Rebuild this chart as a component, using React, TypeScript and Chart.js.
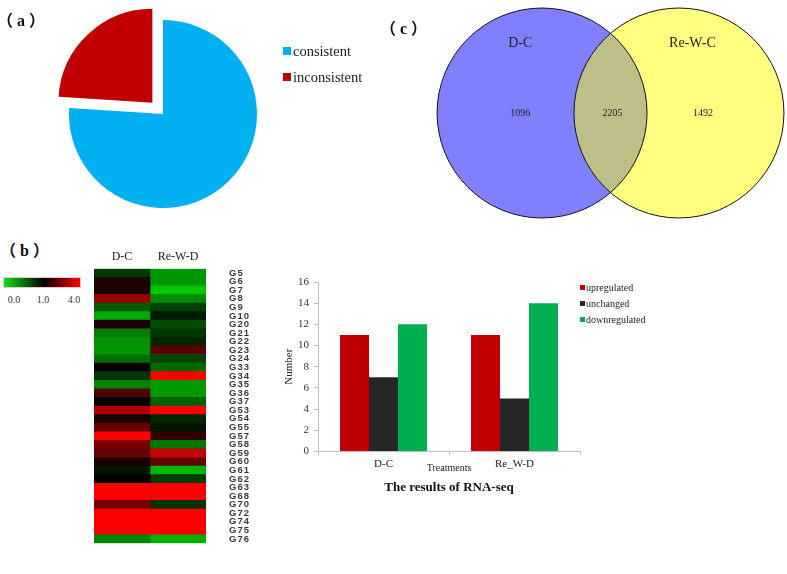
import React, { useEffect, useRef } from 'react';
import { Chart, registerables } from 'chart.js';

Chart.register(...registerables);

const SERIF = "'Liberation Serif', 'Times New Roman', serif";
const CJK = "'Liberation Serif', 'Noto Sans CJK SC', serif";

// ---------- (a) pie ----------
const pieLabels = ['consistent', 'inconsistent'];
const pieValues = [76, 24];
const pieColors = ['#00b0f0', '#c00000'];

// ---------- (c) venn ----------
const vennSetLabels = ['D-C', 'Re-W-C'];
const vennCounts = [1096, 2205, 1492]; // only D-C, both, only Re-W-C
const vennColors = ['#8080ff', '#ffff80', '#bebe88'];

// ---------- (b) heatmap ----------
const genes = ['G5', 'G6', 'G7', 'G8', 'G9', 'G10', 'G20', 'G21', 'G22', 'G23', 'G24', 'G33', 'G34', 'G35', 'G36', 'G37',
  'G53', 'G54', 'G55', 'G57', 'G58', 'G59', 'G60', 'G61', 'G62', 'G63', 'G68', 'G70', 'G72', 'G74', 'G75', 'G76'];
const heatColumns = ['D-C', 'Re-W-D'];
const dcValues = [0.74, 1.35, 1.35, 2.76, 0.61, 0.26, 1.35, 0.46, 0.37, 0.35, 0.52, 1.0, 0.76, 0.43, 1.94, 1.06,
  3.0, 1.35, 2.18, 4.0, 2.41, 2.18, 1.29, 0.91, 1.0, 4.0, 4.0, 2.41, 4.0, 4.0, 4.0, 0.43];
const rwdValues = [0.35, 0.35, 0.13, 0.39, 0.72, 0.89, 0.67, 0.76, 0.85, 2.06, 0.7, 0.54, 4.0, 0.33, 0.33, 0.57,
  4.0, 0.83, 0.91, 1.59, 0.48, 3.35, 2.18, 0.2, 0.74, 4.0, 4.0, 0.78, 4.0, 4.0, 4.0, 0.24];
const colorbarLabels = ['0.0', '1.0', '4.0'];

// ---------- RNA-seq bars ----------
const barCategories = ['D-C', 'Re_W-D'];
const seriesNames = ['upregulated', 'unchanged', 'downregulated'];
const upregulated = [11, 11];
const unchanged = [7, 5];
const downregulated = [12, 14];
const barColors = ['#c00000', '#262626', '#00b050'];

function heatColor(v: number): string {
  if (v <= 1) {
    const g = Math.round(230 * (1 - Math.max(0, v)));
    return `rgb(0,${g},0)`;
  }
  const r = Math.round(255 * Math.min(1, (v - 1) / 3));
  return `rgb(${r},0,0)`;
}

function useChart(ref: any, make: () => any) {
  useEffect(() => {
    const c = new Chart(ref.current, make());
    return () => c.destroy();
  }, []);
}

const abs = (left: number, top: number, extra: any = {}) => ({ position: 'absolute' as const, left, top, ...extra });

function PiePanel() {
  const ref = useRef<HTMLCanvasElement>(null);
  useChart(ref, () => ({
    type: 'pie',
    data: {
      labels: pieLabels,
      datasets: [{ data: pieValues, backgroundColor: pieColors, borderWidth: 0, offset: [0, 62], radius: 94 }],
    },
    options: {
      responsive: false, animation: false, events: [],
      layout: { padding: 0 },
      plugins: { legend: { display: false }, tooltip: { enabled: false } },
    },
  }));
  return (
    <>
      <canvas ref={ref} width={326} height={228} style={abs(0, 0)} />
      {pieLabels.map((l, i) => (
        <div key={l} style={abs(283, 42 + i * 26, { height: 18, display: 'flex', alignItems: 'center', font: `14.5px ${SERIF}`, color: '#222', whiteSpace: 'nowrap' })}>
          <span style={{ width: 8, height: 8, background: pieColors[i], marginRight: 2, display: 'inline-block' }} />
          {l}
        </div>
      ))}
    </>
  );
}

function VennPanel() {
  const ref = useRef<HTMLCanvasElement>(null);
  useChart(ref, () => {
    const R = 1;
    const pxR = (chart: any) => {
      const s = chart.scales.x;
      return s.getPixelForValue(R) - s.getPixelForValue(0);
    };
    const vennPlugin = {
      id: 'vennOverlap',
      beforeDatasetsDraw(chart: any) {
        const { ctx } = chart;
        const r = pxR(chart);
        ctx.save();
        [0, 1].forEach((i) => {
          const p = chart.getDatasetMeta(i).data[0];
          ctx.beginPath(); ctx.arc(p.x, p.y, r, 0, Math.PI * 2);
          ctx.fillStyle = vennColors[i]; ctx.fill();
        });
        ctx.restore();
      },
      afterDatasetsDraw(chart: any) {
        const { ctx } = chart;
        const xs = chart.scales.x, ys = chart.scales.y;
        const r = pxR(chart);
        const a = chart.getDatasetMeta(0).data[0];
        const b = chart.getDatasetMeta(1).data[0];
        ctx.save();
        ctx.beginPath(); ctx.arc(a.x, a.y, r, 0, Math.PI * 2); ctx.clip();
        ctx.beginPath(); ctx.arc(b.x, b.y, r, 0, Math.PI * 2);
        ctx.fillStyle = vennColors[2]; ctx.fill();
        ctx.restore();
        ctx.save();
        ctx.strokeStyle = '#111'; ctx.lineWidth = 1;
        [a, b].forEach((p: any) => { ctx.beginPath(); ctx.arc(p.x, p.y, r, 0, Math.PI * 2); ctx.stroke(); });
        ctx.fillStyle = '#222'; ctx.textAlign = 'center'; ctx.textBaseline = 'middle';
        ctx.font = `14px ${SERIF}`;
        ctx.fillText(vennSetLabels[0], xs.getPixelForValue(-0.86), ys.getPixelForValue(0.667));
        ctx.fillText(vennSetLabels[1], xs.getPixelForValue(0.78), ys.getPixelForValue(0.667));
        ctx.font = `10px ${SERIF}`;
        ctx.fillText(String(vennCounts[0]), xs.getPixelForValue(-0.86), ys.getPixelForValue(0));
        ctx.fillText(String(vennCounts[1]), xs.getPixelForValue(0.02), ys.getPixelForValue(0));
        ctx.fillText(String(vennCounts[2]), xs.getPixelForValue(0.88), ys.getPixelForValue(0));
        ctx.restore();
      },
    };
    const rad = (ctx: any) => {
      const v = pxR(ctx.chart);
      return isFinite(v) ? v : 0;
    };
    return {
      type: 'bubble',
      data: {
        datasets: [
          { label: vennSetLabels[0], data: [{ x: -0.652, y: 0 }], backgroundColor: vennColors[0], borderColor: '#111', borderWidth: 1, radius: rad },
          { label: vennSetLabels[1], data: [{ x: 0.652, y: 0 }], backgroundColor: vennColors[1], borderColor: '#111', borderWidth: 1, radius: rad },
        ],
      },
      options: {
        responsive: false, animation: false, events: [],
        layout: { padding: 0 },
        scales: {
          x: { type: 'linear', min: -2.005, max: 1.681, display: false },
          y: { type: 'linear', min: -1.114, max: 1.076, display: false },
        },
        plugins: { legend: { display: false }, tooltip: { enabled: false } },
      },
      plugins: [vennPlugin],
    };
  });
  return <canvas ref={ref} width={387} height={230} style={abs(400, 0)} />;
}

function HeatPanel() {
  const ref = useRef<HTMLCanvasElement>(null);
  useChart(ref, () => {
    const spacing = {
      id: 'geneSpacing',
      afterLayout(chart: any) {
        const s = chart.scales.y;
        if (s.__patched) return;
        const orig = s.drawLabels.bind(s);
        s.drawLabels = (ca: any) => {
          const ctx = chart.ctx;
          ctx.save();
          ctx.letterSpacing = '1px';
          orig(ca);
          ctx.restore();
        };
        s.__patched = true;
      },
    };
    return {
      type: 'bar',
      data: {
        labels: genes,
        datasets: [
          { label: heatColumns[0], data: genes.map(() => 1), backgroundColor: dcValues.map(heatColor) },
          { label: heatColumns[1], data: genes.map(() => 1), backgroundColor: rwdValues.map(heatColor) },
        ],
      },
      options: {
        indexAxis: 'y',
        responsive: false, animation: false, events: [],
        layout: { padding: { left: 4, top: 5, right: 0, bottom: 2 } },
        datasets: { bar: { barPercentage: 1, categoryPercentage: 1, borderWidth: 0 } },
        scales: {
          x: { type: 'linear', stacked: true, min: 0, max: 2, display: false },
          xTop: {
            type: 'category', axis: 'x', labels: heatColumns, position: 'top', offset: true,
            grid: { display: false, drawTicks: false }, border: { display: false },
            ticks: { font: { family: SERIF, size: 12 }, color: '#222', padding: 5 },
            afterFit: (s: any) => { s.height = 22; },
          },
          y: {
            stacked: true, position: 'right',
            grid: { display: false, drawTicks: false }, border: { display: false },
            ticks: { font: { family: "'Liberation Sans', Arial, sans-serif", size: 9.5, weight: 'bold' }, color: '#3a3a3a', padding: 23, autoSkip: false },
            afterFit: (s: any) => { s.width = 54; },
          },
        },
        plugins: { legend: { display: false }, tooltip: { enabled: false } },
      },
      plugins: [spacing],
    };
  });
  return (
    <>
      <canvas ref={ref} width={170} height={332} style={abs(90, 240)} />
      <div style={abs(3, 277, { width: 78, height: 11, boxSizing: 'border-box', border: '1px solid #e8c8c8', background: 'linear-gradient(to right, #10e020 0%, #000 52%, #ff0000 100%)' })} />
      {colorbarLabels.map((l, i) => (
        <div key={l} style={abs([6, 35, 66][i], 293, { font: `10px ${SERIF}`, color: '#333', lineHeight: '14px', width: 16, textAlign: 'center' })}>{l}</div>
      ))}
    </>
  );
}

function BarPanel() {
  const ref = useRef<HTMLCanvasElement>(null);
  useChart(ref, () => ({
    type: 'bar',
    data: {
      labels: barCategories,
      datasets: [
        { label: seriesNames[0], data: upregulated, backgroundColor: barColors[0] },
        { label: seriesNames[1], data: unchanged, backgroundColor: barColors[1] },
        { label: seriesNames[2], data: downregulated, backgroundColor: barColors[2] },
      ],
    },
    options: {
      responsive: false, animation: false, events: [],
      layout: { padding: { top: 12, right: 10, left: 0, bottom: 0 } },
      datasets: { bar: { barPercentage: 1, categoryPercentage: 0.664, borderWidth: 0 } },
      scales: {
        x: {
          grid: { display: true, drawOnChartArea: false, drawTicks: true, tickLength: 4, color: '#bfbfbf', offset: true },
          border: { color: '#bfbfbf' },
          ticks: { font: { family: SERIF, size: 11 }, color: '#222', padding: 2 },
          title: { display: true, text: 'Treatments', font: { family: SERIF, size: 10 }, color: '#222', padding: { top: 0, bottom: 0 } },
          afterFit: (s: any) => { s.height = 23; },
        },
        y: {
          min: 0, max: 16,
          ticks: { stepSize: 2, font: { family: SERIF, size: 11 }, color: '#333', padding: 5 },
          grid: { display: true, drawOnChartArea: false, drawTicks: true, tickLength: 4, color: '#bfbfbf' },
          border: { color: '#bfbfbf' },
          title: { display: true, text: 'Number', font: { family: SERIF, size: 11 }, color: '#222', padding: { top: 7, bottom: 0 } },
          afterFit: (s: any) => { s.width = 42; },
        },
      },
      plugins: {
        legend: { display: false },
        tooltip: { enabled: false },
        title: {
          display: true, position: 'bottom', fullSize: false, text: 'The results of RNA-seq',
          font: { family: SERIF, size: 13, weight: 'bold' }, color: '#111', padding: { top: 5, bottom: 0 },
        },
      },
    },
  }));
  return (
    <>
      <canvas ref={ref} width={314} height={225} style={abs(276, 270)} />
      {seriesNames.map((n, i) => (
        <div key={n} style={abs(580, 280 + i * 16, { height: 14, display: 'flex', alignItems: 'center', font: `10px ${SERIF}`, color: '#222', whiteSpace: 'nowrap' })}>
          <span style={{ width: 5, height: 5, background: barColors[i], marginRight: 1, display: 'inline-block' }} />
          {n}
        </div>
      ))}
    </>
  );
}

export default function App() {
  const label = (t: string, left: number, top: number) => (
    <div style={abs(left, top, { font: `bold 16px ${CJK}`, lineHeight: '16px', color: '#111', whiteSpace: 'nowrap', letterSpacing: '4px' })}>{t}</div>
  );
  return (
    <div style={abs(0, 0, { width: 787, height: 574, background: '#fff', overflow: 'hidden' })}>
      <PiePanel />
      <VennPanel />
      <HeatPanel />
      <BarPanel />
      {label('（a）', -3, 13)}
      {label('（b）', 0, 243)}
      {label('（c）', 380, 21)}
    </div>
  );
}
